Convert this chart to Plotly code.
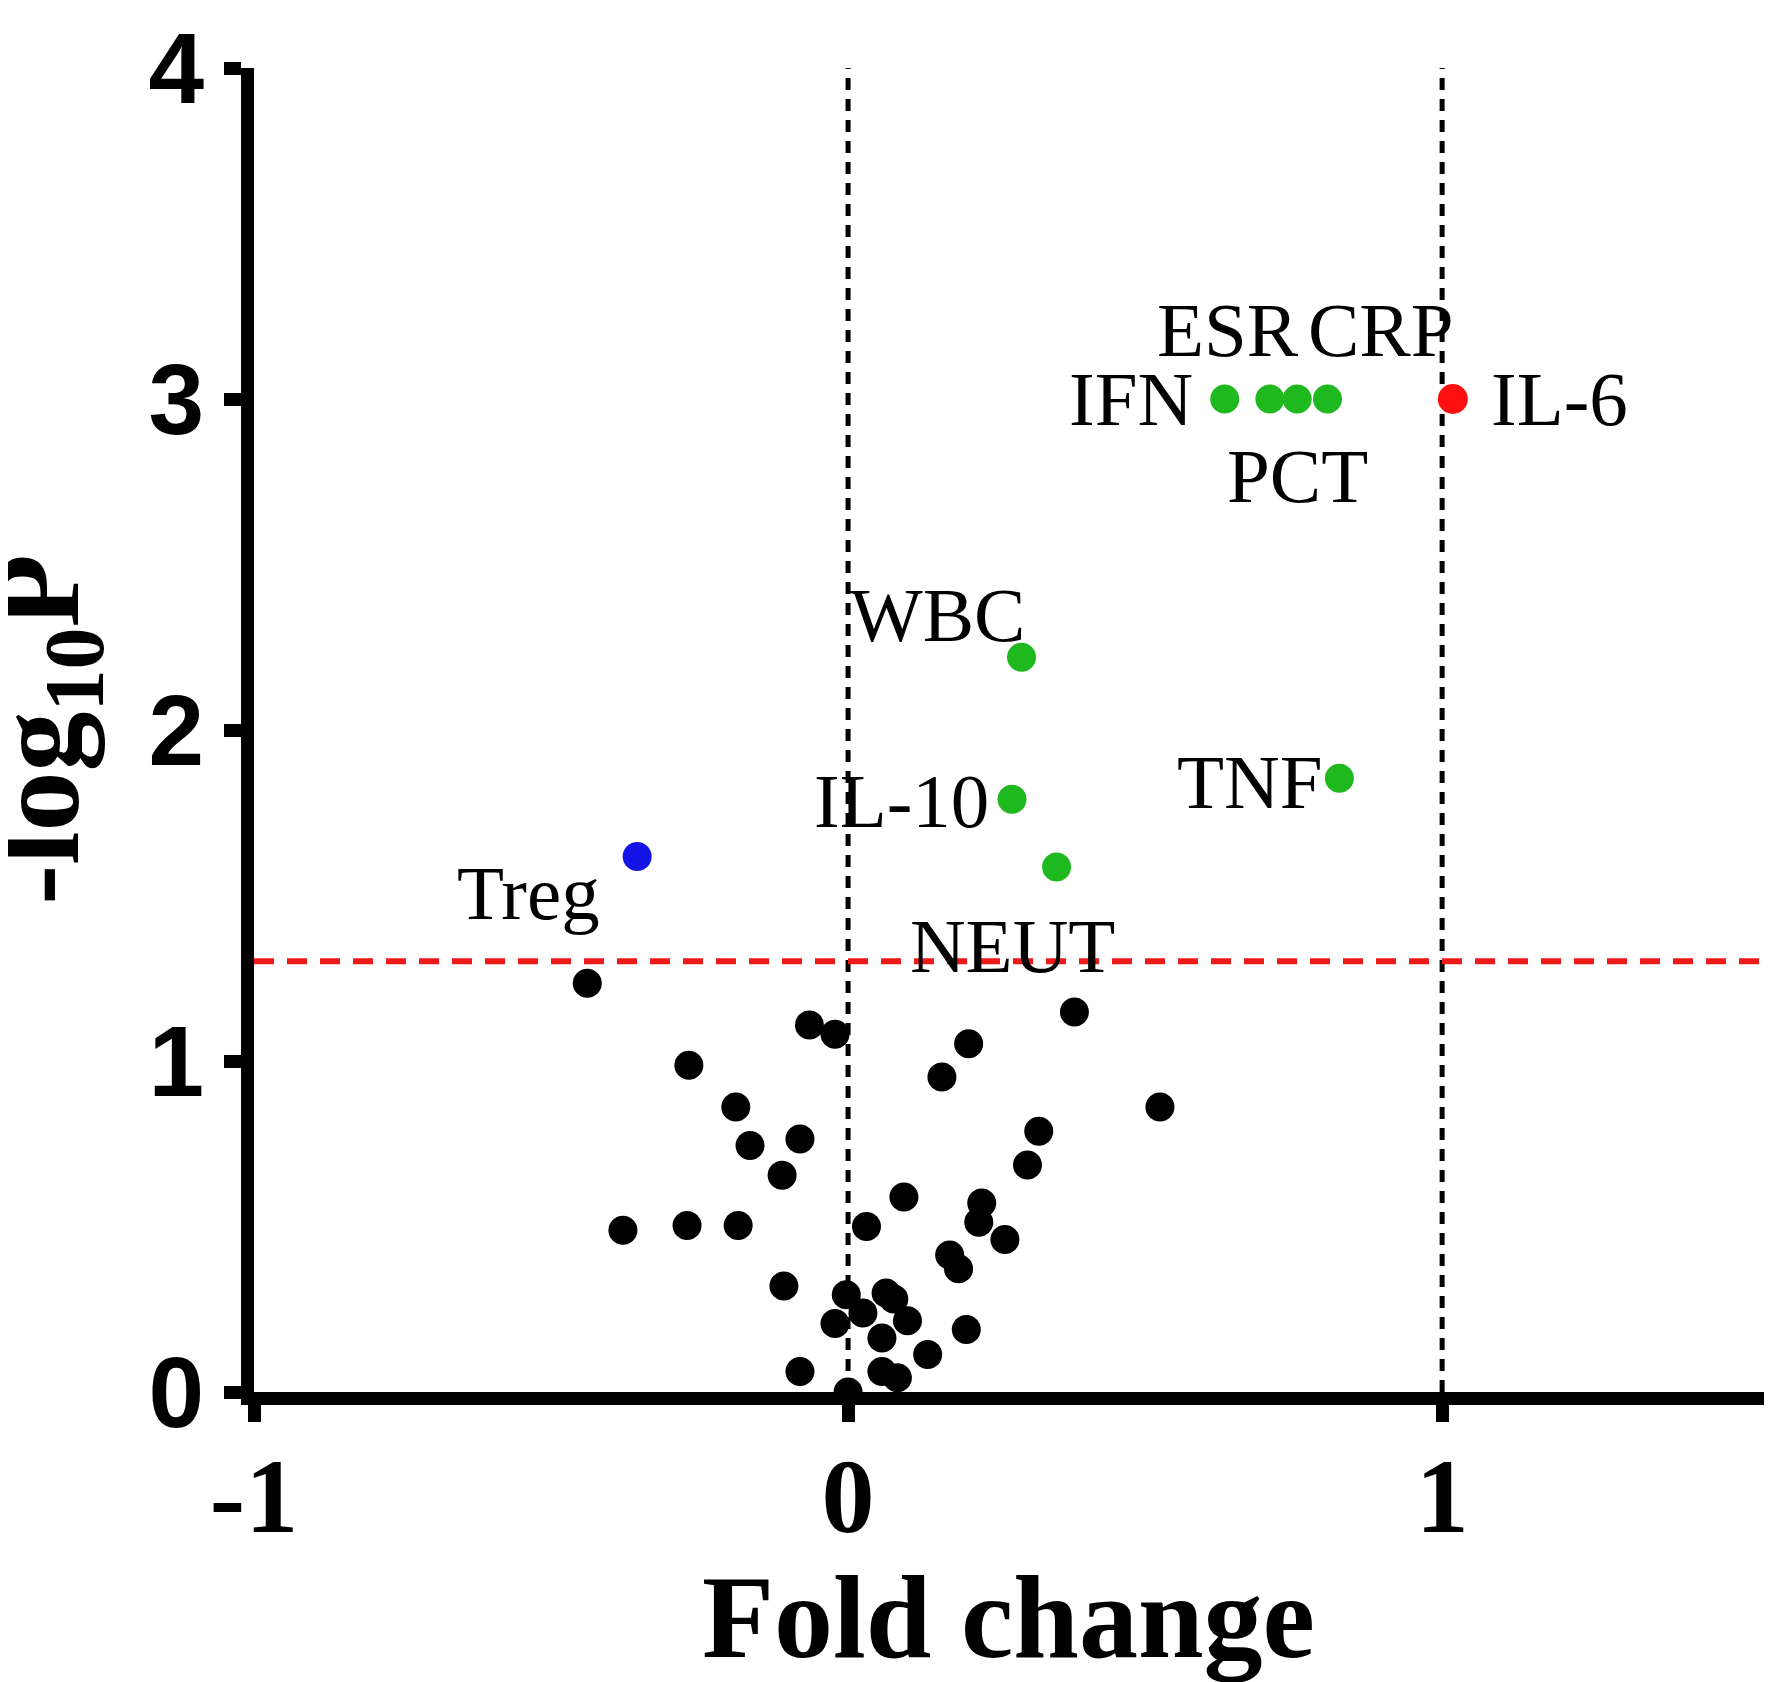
import plotly.graph_objects as go

# ---- data ----
ns_x = [-0.439, -0.065, -0.022, -0.268, -0.189, -0.165, -0.081, -0.111, -0.379, -0.271,
        -0.185, -0.108, -0.081, 0.000, -0.003, -0.022, 0.025, 0.031, 0.064, 0.077,
        0.057, 0.100, 0.057, 0.083, 0.134, 0.094, 0.158, 0.203, 0.171, 0.186,
        0.225, 0.220, 0.199, 0.264, 0.302, 0.321, 0.381, 0.525]
ns_y = [1.235, 1.109, 1.081, 0.987, 0.861, 0.745, 0.764, 0.655, 0.489, 0.503,
        0.503, 0.320, 0.062, 0.000, 0.294, 0.207, 0.239, 0.500, 0.299, 0.281,
        0.163, 0.215, 0.062, 0.043, 0.113, 0.589, 0.952, 1.052, 0.414, 0.372,
        0.571, 0.513, 0.189, 0.461, 0.686, 0.788, 1.148, 0.861]

up_names = ["IFN", "ESR", "PCT", "CRP", "WBC", "TNF", "IL-10", "NEUT"]
up_x = [0.634, 0.710, 0.756, 0.807, 0.292, 0.827, 0.276, 0.351]
up_y = [3.000, 3.000, 3.000, 3.000, 2.220, 1.854, 1.791, 1.586]

strong_names = ["IL-6"]
strong_x = [1.018]
strong_y = [3.000]

down_names = ["Treg"]
down_x = [-0.355]
down_y = [1.618]

fc_lines = [0, 1]
p_threshold = 1.301
x_range = [-1, 1.562]
y_range = [0, 4]
x_ticks = [-1, 0, 1]
y_ticks = [0, 1, 2, 3, 4]

# label placement (pixel offsets from each point)
label_style = {
    "IFN":   dict(xanchor="right", xshift=-30, yshift=0),
    "ESR":   dict(xanchor="center", xshift=-42, yshift=69),
    "CRP":   dict(xanchor="center", xshift=54, yshift=69),
    "PCT":   dict(xanchor="center", xshift=0, yshift=-77),
    "WBC":   dict(xanchor="right", xshift=5, yshift=42),
    "TNF":   dict(xanchor="right", xshift=-15, yshift=-4),
    "IL-10": dict(xanchor="right", xshift=-21, yshift=-2),
    "NEUT":  dict(xanchor="center", xshift=-44, yshift=-79),
    "IL-6":  dict(xanchor="left", xshift=36, yshift=0),
    "Treg":  dict(xanchor="right", xshift=-35, yshift=-37),
}

fig = go.Figure()
fig.add_trace(go.Scatter(x=ns_x, y=ns_y, mode="markers", cliponaxis=False,
                         marker=dict(size=29, color="black"), showlegend=False))
fig.add_trace(go.Scatter(x=up_x, y=up_y, mode="markers", cliponaxis=False,
                         marker=dict(size=29, color="#1fb81f"), showlegend=False))
fig.add_trace(go.Scatter(x=strong_x, y=strong_y, mode="markers", cliponaxis=False,
                         marker=dict(size=30, color="#ff1010"), showlegend=False))
fig.add_trace(go.Scatter(x=down_x, y=down_y, mode="markers", cliponaxis=False,
                         marker=dict(size=29, color="#1414e6"), showlegend=False))

for xv in fc_lines:
    fig.add_shape(type="line", xref="x", yref="y", x0=xv, x1=xv, y0=y_range[0], y1=y_range[1],
                  line=dict(color="black", width=5, dash="12px,9px"), layer="below")
fig.add_shape(type="line", xref="x", yref="y", x0=x_range[0], x1=x_range[1],
              y0=p_threshold, y1=p_threshold,
              line=dict(color="#ee1a1a", width=6, dash="20px,13px"), layer="below")

lab_font = dict(family="Liberation Serif", size=77, color="black")
for names, xs, ys in [(up_names, up_x, up_y), (strong_names, strong_x, strong_y),
                      (down_names, down_x, down_y)]:
    for n, xv, yv in zip(names, xs, ys):
        st = label_style[n]
        fig.add_annotation(x=xv, y=yv, xref="x", yref="y", text=n, showarrow=False,
                           xanchor=st["xanchor"], yanchor="middle",
                           xshift=st["xshift"], yshift=st["yshift"], font=lab_font)

# axis titles
fig.add_annotation(x=0.496, y=-0.1703, xref="paper", yref="paper", text="Fold change",
                   showarrow=False, xanchor="center", yanchor="middle",
                   font=dict(family="Liberation Serif", size=118, color="black", weight="bold"))
fig.add_annotation(x=-0.1365, y=0.5004, xref="paper", yref="paper",
                   text="-log<sub>10</sub>P", textangle=-90,
                   showarrow=False, xanchor="center", yanchor="middle",
                   font=dict(family="Liberation Serif", size=120, color="black", weight="bold"))

axis_common = dict(showline=True, linewidth=13, linecolor="black", ticks="outside",
                   tickwidth=13, ticklen=17, tickcolor="black", showgrid=False,
                   zeroline=False, mirror=False, ticklabeloverflow="allow")
fig.update_xaxes(range=x_range, tickvals=x_ticks, ticktext=[str(v) for v in x_ticks],
                 tickfont=dict(family="Liberation Serif", size=106, color="black", weight="bold"),
                 ticklabelstandoff=-17, **axis_common)
fig.update_yaxes(range=y_range, tickvals=y_ticks, ticktext=[str(v) for v in y_ticks],
                 tickfont=dict(family="Liberation Sans", size=100, color="black", weight="bold"),
                 ticklabelstandoff=0, **axis_common)

fig.update_layout(width=1772, height=1682, margin=dict(l=246, r=4, t=45, b=298),
                  plot_bgcolor="white", paper_bgcolor="white")

fig.write_html("out.html")
